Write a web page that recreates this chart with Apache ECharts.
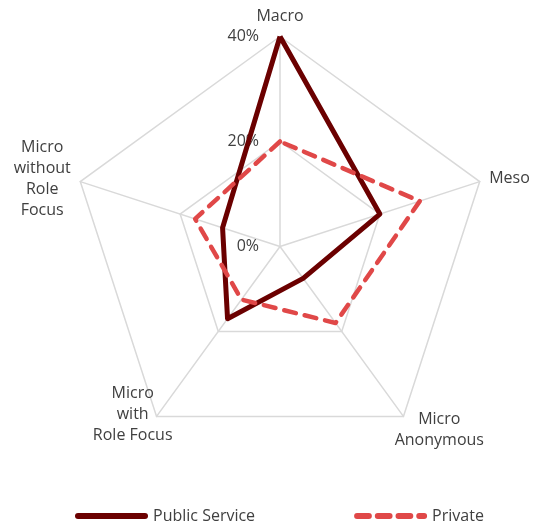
<!DOCTYPE html>
<html>
<head>
<meta charset="utf-8">
<script src="https://cdn.jsdelivr.net/npm/echarts@6/dist/echarts.min.js"></script>
<style>
  html, body { margin: 0; padding: 0; background: #ffffff; }
  #chart { width: 535px; height: 525px; }
</style>
</head>
<body>
<div id="chart"></div>
<script>
// Radar spokes, listed counter-clockwise from the top
const categories = ['Macro', 'Micro\nwithout\nRole\nFocus', 'Micro\nwith\nRole Focus', 'Micro\nAnonymous', 'Meso'];
const publicService = [40, 11.5, 17, 7.5, 20];
const privateSector = [20, 17, 12.5, 18, 28];
const seriesNames = ['Public Service', 'Private'];
const axisMax = 40;

const TEXT = '#404040';
const GRID = '#d9d9d9';
const FONT = '"Open Sans", "Noto Sans", sans-serif';

// legend glyphs: a solid bar and a row of rounded dashes
const solidIcon = 'path://M3,0 H70 A3,3 0 0 1 70,6 H3 A3,3 0 0 1 3,0 Z';
const dashIcon = 'path://M3,0 H15 A3,3 0 0 1 15,6 H3 A3,3 0 0 1 3,0 Z ' +
  'M24,0 H36 A3,3 0 0 1 36,6 H24 A3,3 0 0 1 24,0 Z ' +
  'M45,0 H57 A3,3 0 0 1 57,6 H45 A3,3 0 0 1 45,0 Z ' +
  'M66,0 H71 A3,3 0 0 1 71,6 H66 A3,3 0 0 1 66,0 Z';

// the two lower spokes get centred name blocks nudged off the corner
const nameStyles = {
  2: { align: 'center', verticalAlign: 'middle', padding: [0, 36, 20, 0] },
  3: { align: 'center', verticalAlign: 'middle', padding: [10, 0, 0, 60] }
};

const indicator = categories.map(function (name, i) {
  const ind = { name: name, min: 0, max: axisMax };
  if (i === 0) {
    ind.axisLabel = { show: true };
  }
  if (nameStyles[i]) {
    ind.nameTextStyle = nameStyles[i];
  }
  return ind;
});

const chart = echarts.init(document.getElementById('chart'), null, { renderer: 'canvas' });
chart.setOption({
  animation: false,
  textStyle: { fontFamily: FONT },
  legend: {
    left: 75,
    bottom: 1,
    padding: 0,
    itemWidth: 73,
    itemHeight: 6,
    itemGap: 99,
    textStyle: { color: TEXT, fontSize: 16, fontFamily: FONT },
    itemStyle: { borderWidth: 0 },
    data: [
      { name: seriesNames[0], icon: solidIcon },
      { name: seriesNames[1], icon: dashIcon }
    ]
  },
  radar: {
    center: [280, 246.5],
    radius: 210,
    shape: 'polygon',
    splitNumber: 2,
    startAngle: 90,
    indicator: indicator,
    axisNameGap: 10,
    axisName: {
      color: TEXT,
      fontSize: 16,
      fontFamily: FONT,
      formatter: function (name) {
        return name.split('\n').map(function (line) { return '{c|' + line + '}'; }).join('\n');
      },
      rich: {
        c: { align: 'center', fontSize: 16, lineHeight: 21, color: TEXT, fontFamily: FONT }
      }
    },
    axisLabel: {
      show: false,
      color: TEXT,
      fontSize: 16,
      fontFamily: FONT,
      margin: 21,
      formatter: '{value}%'
    },
    axisTick: { show: false },
    axisLine: { lineStyle: { color: GRID, width: 1.5 } },
    splitLine: { lineStyle: { color: GRID, width: 1.5 } },
    splitArea: { show: false }
  },
  series: [{
    type: 'radar',
    symbol: 'none',
    data: [
      {
        name: seriesNames[0],
        value: publicService,
        lineStyle: { color: '#6b0000', width: 5, join: 'round' },
        itemStyle: { color: '#6b0000' }
      },
      {
        name: seriesNames[1],
        value: privateSector,
        lineStyle: { color: '#e04848', width: 4.5, type: [12, 9], cap: 'round', join: 'round' },
        itemStyle: { color: '#e04848' }
      }
    ]
  }]
});
</script>
</body>
</html>
